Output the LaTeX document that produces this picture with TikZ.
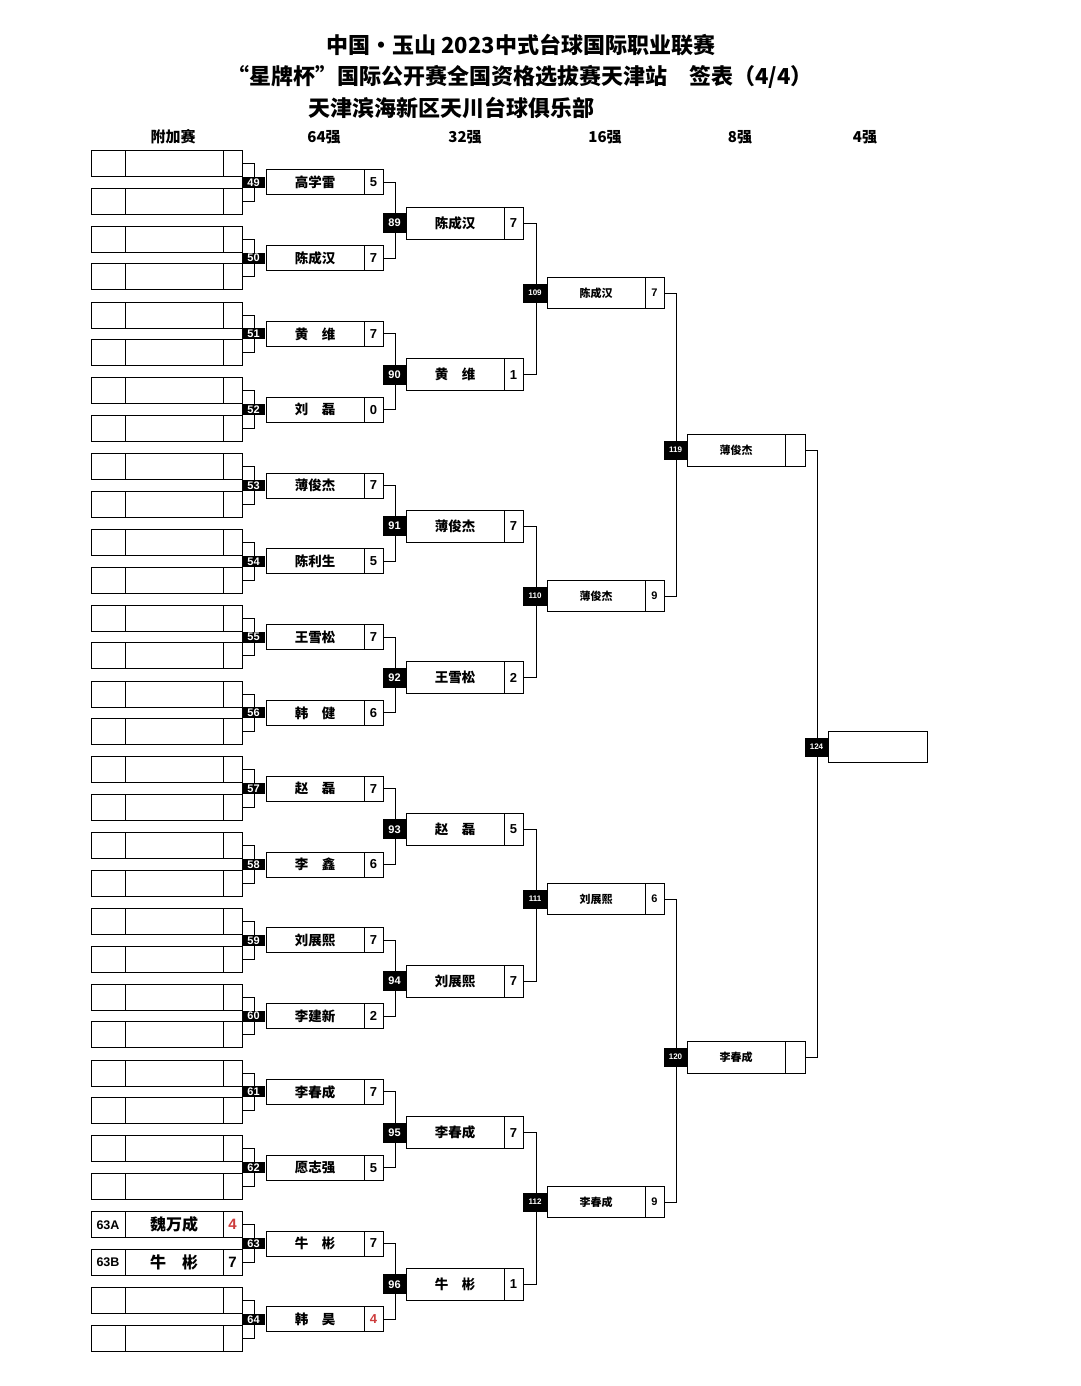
\documentclass[tikz,border=0pt]{standalone}
\usepackage{fontspec}
\setmainfont{Liberation Sans}
\newfontfamily\cjk{Noto Sans CJK SC}
\newcommand\fsize[1]{\fontsize{#1}{#1}\selectfont}
\definecolor{scorered}{RGB}{205,60,60}

\begin{document}
\begin{tikzpicture}[x=1pt, y=-1pt,
  cell/.style={draw, line width=1pt, inner sep=0pt, outer sep=0pt},
  pre/.style={cell, minimum height=26},
  r64/.style={cell, minimum height=25, font=\cjk\bfseries\fsize{13.5}},
  r32/.style={cell, minimum height=32, font=\cjk\bfseries\fsize{13.5}},
  r16/.style={cell, minimum height=31, font=\cjk\bfseries\fsize{11}},
  sc/.style={font=\bfseries\fsize{13}},
  tag/.style={fill=black, text=white, inner sep=0pt, outer sep=0pt, minimum width=23, font=\bfseries\fsize{11}},
  small/.style={font=\bfseries\fsize{8}},
  link/.style={line width=1pt},
  head/.style={font=\cjk\bfseries\fsize{15}},
  title/.style={font=\cjk\bfseries\fsize{22}, anchor=west},
]
  \fill[white] (0,0) rectangle (1080,1386);
  \useasboundingbox (0,0) rectangle (1080,1386);

  % title
  \node[title] (line1) at (323,45) {中国・玉山 2023中式台球国际职业联赛};
  \node[title] (line2) at (224,77) {“星牌杯”国际公开赛全国资格选拔赛天津站\quad 签表（4/4）};
  \node[title] (line3) at (305,108) {天津滨海新区天川台球俱乐部};

  % round heads
  \node[head] (h0) at (173,137) {附加赛};
  \node[head] (h64) at (324,137) {64强};
  \node[head] (h32) at (465,137) {32强};
  \node[head] (h16) at (605,137) {16强};
  \node[head] (h8) at (740,137) {8强};
  \node[head] (h4) at (865,137) {4强};

  % play-off boxes
  \foreach \k in {0,...,15}{
    \pgfmathtruncatemacro\m{49+\k}
    \pgfmathsetmacro\ya{163.5+75.8*\k}
    \pgfmathsetmacro\yb{201+75.8*\k}
    \foreach \r/\y in {a/\ya, b/\yb}{
      \node[pre, minimum width=34] (p\m\r) at (108,\y) {};
      \node[pre, minimum width=98] (q\m\r) at (174,\y) {};
      \node[pre, minimum width=19] (x\m\r) at (232.5,\y) {};
    }
    \draw[link] (x\m a.east) -- ++(12,0) |- (x\m b.east);
  }
  \node[font=\bfseries\fsize{12.5}] (p63atext) at (p63a) {63A};
  \node[font=\cjk\bfseries\fsize{16}] (q63atext) at (q63a) {魏万成};
  \node[font=\bfseries\fsize{15}, text=scorered] (x63atext) at (x63a) {4};
  \node[font=\bfseries\fsize{12.5}] (p63btext) at (p63b) {63B};
  \node[font=\cjk\bfseries\fsize{16}] (q63btext) at (q63b) {牛　彬};
  \node[font=\bfseries\fsize{15}] (x63btext) at (x63b) {7};

  % 64
  \foreach \m/\who/\pts [count=\k from 0] in {49/高学雷/5, 50/陈成汉/7, 51/黄　维/7, 52/刘　磊/0,
      53/薄俊杰/7, 54/陈利生/5, 55/王雪松/7, 56/韩　健/6, 57/赵　磊/7, 58/李　鑫/6,
      59/刘展熙/7, 60/李建新/2, 61/李春成/7, 62/愿志强/5, 63/牛　彬/7, 64/韩　昊/{\textcolor{scorered}{4}}}{
    \pgfmathsetmacro\y{182.3+75.8*\k}
    \node[r64, minimum width=98] (n\m) at (315,\y) {\who};
    \node[r64, sc, minimum width=19] (s\m) at (373.5,\y) {\pts};
    \node[tag, minimum height=11] (t\m) at (253.5,\y) {\m};
  }

  % 32
  \foreach \m/\who/\pts [count=\k from 0] in {89/陈成汉/7, 90/黄　维/1, 91/薄俊杰/7, 92/王雪松/2,
      93/赵　磊/5, 94/刘展熙/7, 95/李春成/7, 96/牛　彬/1}{
    \pgfmathsetmacro\y{223+151.6*\k}
    \pgfmathtruncatemacro\ua{49+2*\k}
    \pgfmathtruncatemacro\ub{50+2*\k}
    \node[r32, minimum width=98] (n\m) at (455,\y) {\who};
    \node[r32, sc, minimum width=19] (s\m) at (513.5,\y) {\pts};
    \draw[link] (s\ua.east) -- ++(12,0) |- (s\ub.east);
    \node[tag, minimum height=20] (t\m) at (394.5,\y) {\m};
  }

  % 16
  \foreach \m/\who/\pts [count=\k from 0] in {109/陈成汉/7, 110/薄俊杰/9, 111/刘展熙/6, 112/李春成/9}{
    \pgfmathsetmacro\y{293+303*\k}
    \pgfmathtruncatemacro\ua{89+2*\k}
    \pgfmathtruncatemacro\ub{90+2*\k}
    \node[r16, minimum width=98] (n\m) at (596,\y) {\who};
    \node[r16, font=\bfseries\fsize{11}, minimum width=19] (s\m) at (654.5,\y) {\pts};
    \draw[link] (s\ua.east) -- ++(13,0) |- (s\ub.east);
    \node[tag, small, minimum width=24, minimum height=19] (t\m) at (535,\y) {\m};
  }

  % 8
  \foreach \m/\who [count=\k from 0] in {119/薄俊杰, 120/李春成}{
    \pgfmathsetmacro\y{450+607*\k}
    \pgfmathtruncatemacro\ua{109+2*\k}
    \pgfmathtruncatemacro\ub{110+2*\k}
    \node[r16, minimum height=32, minimum width=98] (n\m) at (736,\y) {\who};
    \node[r16, minimum height=32, minimum width=20] (s\m) at (795,\y) {};
    \draw[link] (s\ua.east) -- ++(12,0) |- (s\ub.east);
    \node[tag, small, minimum height=19] (t\m) at (675.5,\y) {\m};
  }

  % 4
  \draw[link] (s119.east) -- ++(12,0) |- (s120.east);
  \node[cell, minimum width=99, minimum height=31] (f124) at (877.5,747) {};
  \node[tag, small, minimum height=19] (t124) at (816.5,747) {124};
\end{tikzpicture}
\end{document}
